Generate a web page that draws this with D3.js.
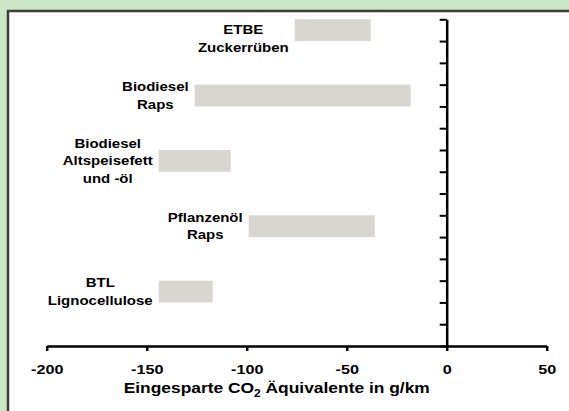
<!DOCTYPE html>
<html lang="de">
<head>
<meta charset="UTF-8">
<title>Eingesparte CO2 Äquivalente</title>
<script src="https://d3js.org/d3.v7.min.js"></script>
<style>
  body { margin: 0; background: #cde6c5; }
  svg { display: block; }
  text { font-family: "Liberation Sans", Arial, sans-serif; font-weight: bold; fill: #000; }
</style>
</head>
<body>
<div id="chart"></div>
<script>
// Data
const categories = ["ETBE Zuckerrüben", "Biodiesel Raps", "Biodiesel Altspeisefett und -öl", "Pflanzenöl Raps", "BTL Lignocellulose"];
const labelLines = [
  ["ETBE", "Zuckerrüben"],
  ["Biodiesel", "Raps"],
  ["Biodiesel", "Altspeisefett", "und -öl"],
  ["Pflanzenöl", "Raps"],
  ["BTL", "Lignocellulose"]
];
const lowValues = [-76, -126, -144, -99, -144];
const highValues = [-38, -18, -108, -36, -117];
const xTickValues = [-200, -150, -100, -50, 0, 50];

const W = 569, H = 411;
const stretch = 1.2;   // text in the original is wider than normal

const svg = d3.select("#chart").append("svg")
  .attr("width", W)
  .attr("height", H);

// white panel with dark border (right/bottom run off the picture)
svg.append("rect")
  .attr("x", 8).attr("y", 11)
  .attr("width", 640).attr("height", 480)
  .attr("fill", "#fff")
  .attr("stroke", "#3d3d3d")
  .attr("stroke-width", 2.5);

// scales
const x = d3.scaleLinear().domain([-200, 50]).range([46.7, 546.7]);
const y = d3.scaleBand().domain(categories).range([19.3, 346]).paddingInner(0).paddingOuter(0);
const yTicks = d3.scaleLinear().domain([0, categories.length * 3]).range([19.3, 346]);

// bars
svg.selectAll(".bar")
  .data(categories)
  .enter().append("rect")
  .attr("class", "bar")
  .attr("x", (d, i) => x(lowValues[i]))
  .attr("y", d => y(d))
  .attr("width", (d, i) => x(highValues[i]) - x(lowValues[i]))
  .attr("height", y.bandwidth() / 3)
  .attr("fill", "#d9d5d1");

// x axis
const xAxis = svg.append("g")
  .attr("transform", `translate(0, ${yTicks.range()[1]})`)
  .call(d3.axisBottom(x).tickValues(xTickValues).tickSize(5).tickSizeOuter(0).tickFormat(d => String(d)));
xAxis.select(".domain").attr("stroke", "#000").attr("stroke-width", 2.5);
xAxis.selectAll(".tick line").attr("stroke", "#000").attr("stroke-width", 2.5);
xAxis.selectAll(".tick text")
  .attr("y", 28).attr("dy", 0)
  .attr("transform", `scale(${stretch},1)`)
  .style("font-size", "13.5px")
  .style("font-family", "'Liberation Sans', Arial, sans-serif")
  .style("font-weight", "bold")
  .attr("fill", "#000");

// y axis at zero, unlabeled ticks
const yAxis = svg.append("g")
  .attr("transform", `translate(${x(0)}, 0)`)
  .call(d3.axisLeft(yTicks).tickValues(d3.range(categories.length * 3 + 1)).tickSize(7).tickSizeOuter(0).tickFormat(""));
yAxis.select(".domain").attr("stroke", "#000").attr("stroke-width", 2.5);
yAxis.selectAll(".tick line").attr("stroke", "#000").attr("stroke-width", 2);

// category labels, block placed just left of each bar
const lineH = 17.5;
const plotTop = yTicks.range()[0];
categories.forEach((c, i) => {
  const n = labelLines[i].length;
  const mid = y(c) + y.bandwidth() / 6;
  let first = mid - (n - 1) * lineH / 2 + 4.3;
  if (first - 9 < plotTop + 4) first = mid + 4.3;
  const g = svg.append("g");
  const texts = labelLines[i].map((line, j) =>
    g.append("text")
      .attr("x", 0)
      .attr("y", first + j * lineH)
      .attr("text-anchor", "middle")
      .attr("transform", `scale(${stretch},1)`)
      .style("font-size", "12.5px")
      .text(line));
  const maxW = d3.max(texts, t => t.node().getComputedTextLength()) * stretch;
  g.attr("transform", `translate(${x(lowValues[i]) - 6 - maxW / 2}, 0)`);
});

// axis title
const title = svg.append("g")
  .attr("transform", `translate(${x(-85)}, 393.3)`)
  .append("text")
  .attr("text-anchor", "middle")
  .attr("transform", `scale(${stretch},1)`)
  .style("font-size", "14.5px");
title.append("tspan").text("Eingesparte CO");
title.append("tspan").attr("dy", 4).style("font-size", "10px").text("2");
title.append("tspan").attr("dy", -4).text(" Äquivalente in g/km");
</script>
</body>
</html>
